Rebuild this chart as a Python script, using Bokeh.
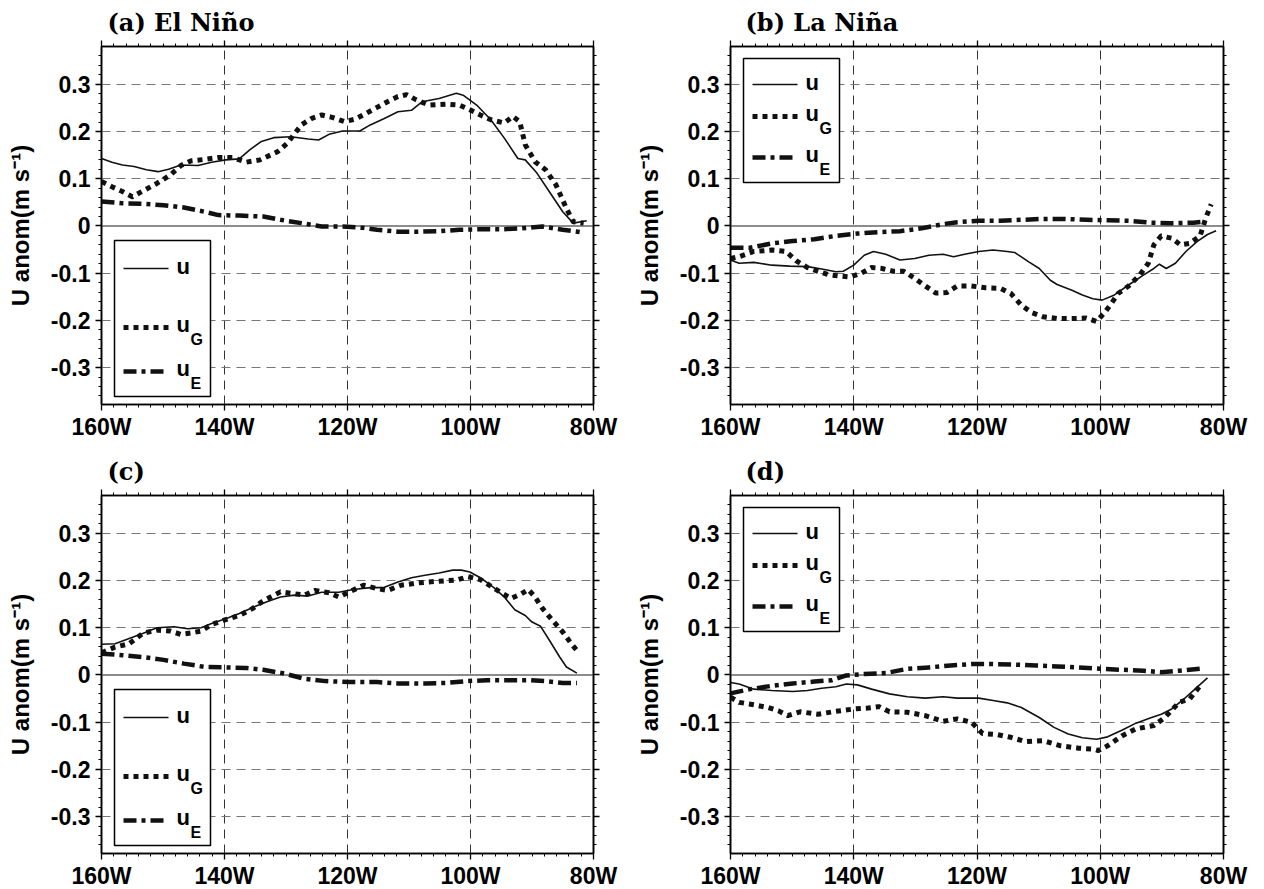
import numpy as np
from bokeh.plotting import figure
from bokeh.models import FixedTicker, LinearAxis, Span, Range1d
from bokeh.layouts import column, row
from bokeh.embed import file_html
from bokeh.resources import INLINE
from bokeh.core.properties import value

# ---------------- data ----------------
TITLES = ["(a) El Niño", "(b) La Niña", "(c)", "(d)"]
XTICKS = [-160, -140, -120, -100, -80]
XTICK_LABELS = ["160W", "140W", "120W", "100W", "80W"]
YTICKS = [-0.3, -0.2, -0.1, 0, 0.1, 0.2, 0.3]
YTICK_LABELS = ["-0.3", "-0.2", "-0.1", "0", "0.1", "0.2", "0.3"]
YLABEL = "U anom(m s\u207b\u00b9)"
SERIES_NAMES = ["u", "u", "u"]
SERIES_SUBS = ["", "G", "E"]

a_u_lon = [-160, -158.3, -156.6, -154.7, -152.7, -150.8, -149.1, -147.1, -144.3, -142.1, -139.8, -137.6, -135.9, -134, -132, -129.2, -126.4, -124.7, -123, -120.8, -118, -116.3, -114.1, -111.8, -109.6, -107.9, -105.1, -102.3, -101.2, -99, -96.7, -94.5, -92.3, -91.1, -89.2, -87.2, -85, -83.3, -81.1]
a_u_val = [0.143, 0.135, 0.129, 0.126, 0.119, 0.115, 0.12, 0.129, 0.128, 0.135, 0.14, 0.142, 0.161, 0.179, 0.187, 0.189, 0.184, 0.182, 0.194, 0.201, 0.201, 0.214, 0.227, 0.242, 0.245, 0.263, 0.27, 0.281, 0.277, 0.256, 0.225, 0.186, 0.143, 0.14, 0.112, 0.073, 0.03, 0.006, 0.011]
a_g_lon = [-160, -158.3, -156.6, -155, -153, -151, -148.8, -147.1, -145.4, -143.2, -141, -138.7, -136.5, -134.2, -131.4, -129.8, -127.5, -125.8, -124.2, -122.5, -120.5, -118.8, -116.9, -115.2, -113.5, -111.8, -110.4, -108.8, -106.8, -104, -101.8, -100.1, -98.4, -96.7, -94.5, -93.1, -92, -91.1, -89.5, -87.8, -86.1, -84.4, -83.3, -81.6]
a_g_val = [0.094, 0.083, 0.073, 0.062, 0.076, 0.09, 0.108, 0.128, 0.138, 0.141, 0.145, 0.145, 0.135, 0.14, 0.157, 0.175, 0.214, 0.228, 0.235, 0.23, 0.221, 0.226, 0.239, 0.251, 0.263, 0.274, 0.278, 0.267, 0.256, 0.258, 0.256, 0.246, 0.235, 0.225, 0.218, 0.232, 0.221, 0.172, 0.136, 0.119, 0.087, 0.037, 0.009, 0.006]
a_e_lon = [-160, -156.6, -153.3, -149.9, -146.6, -143.2, -141, -137.6, -133.7, -130.9, -127.5, -124.2, -120.8, -117.4, -115.2, -111.8, -108.5, -105.1, -101.8, -98.4, -95, -91.7, -88.3, -85, -82.2]
a_e_val = [0.052, 0.048, 0.047, 0.044, 0.039, 0.03, 0.023, 0.022, 0.02, 0.013, 0.006, -0.001, -0.001, -0.004, -0.008, -0.012, -0.012, -0.011, -0.008, -0.007, -0.007, -0.005, -0.001, -0.008, -0.013]

b_u_lon = [-160, -158.6, -156.2, -153.3, -150.4, -147.5, -145.2, -142.9, -141.7, -140, -138.3, -136.8, -134.8, -132.5, -130.1, -127.8, -125.5, -123.8, -122, -119.7, -117.4, -115.1, -113.9, -111.6, -109.9, -108.1, -107, -104.6, -102.9, -101.2, -99.7, -97.7, -95.4, -93, -91.3, -90.4, -89.3, -87.8, -86.1, -84.3, -82.6, -81.2]
b_u_val = [-0.072, -0.079, -0.077, -0.083, -0.085, -0.086, -0.091, -0.097, -0.096, -0.083, -0.062, -0.054, -0.06, -0.072, -0.069, -0.062, -0.06, -0.065, -0.06, -0.054, -0.051, -0.054, -0.056, -0.076, -0.09, -0.115, -0.124, -0.136, -0.146, -0.154, -0.157, -0.146, -0.125, -0.104, -0.09, -0.081, -0.09, -0.079, -0.054, -0.033, -0.018, -0.01]
b_g_lon = [-160, -158.6, -156.2, -153.3, -151, -149.3, -147.5, -145.8, -144.1, -142.3, -140.6, -138.8, -137.1, -135.4, -133.6, -131.9, -130.1, -128.4, -126.7, -124.9, -123.2, -120.9, -118.6, -116.2, -114.5, -112.8, -111, -109.3, -107, -104.6, -102.3, -100.6, -99.4, -98.3, -97.1, -95.4, -93.6, -92.2, -91.3, -90.1, -88.4, -87, -85.5, -83.8, -82.9, -82]
b_g_val = [-0.069, -0.065, -0.054, -0.051, -0.054, -0.074, -0.088, -0.096, -0.103, -0.106, -0.108, -0.1, -0.088, -0.09, -0.096, -0.096, -0.111, -0.127, -0.142, -0.141, -0.127, -0.127, -0.131, -0.132, -0.143, -0.168, -0.184, -0.192, -0.196, -0.196, -0.195, -0.202, -0.185, -0.166, -0.143, -0.127, -0.104, -0.079, -0.04, -0.021, -0.026, -0.04, -0.037, -0.021, 0.016, 0.046]
b_e_lon = [-160, -156.8, -153.3, -149.9, -146.4, -142.9, -139.4, -135.9, -132.5, -129, -125.5, -123.2, -119.7, -116.2, -112.8, -109.3, -105.8, -102.3, -98.8, -95.4, -91.9, -88.4, -84.9, -83.2]
b_e_val = [-0.046, -0.046, -0.037, -0.032, -0.028, -0.021, -0.016, -0.013, -0.011, -0.005, 0.004, 0.008, 0.011, 0.011, 0.013, 0.015, 0.015, 0.013, 0.012, 0.011, 0.007, 0.006, 0.007, 0.009]

c_u_lon = [-160, -157.8, -155.5, -153.3, -151, -148.2, -146, -143.8, -142.1, -139.8, -137.6, -135.4, -133.1, -130.9, -128.6, -126.4, -124.2, -121.4, -119.1, -116.3, -114.1, -111.8, -109.6, -107.4, -105.1, -102.9, -101.5, -100.1, -98.4, -96.2, -94.5, -92.8, -91.1, -90, -88.6, -87.2, -85.5, -84.4, -82.7]
c_u_val = [0.065, 0.066, 0.077, 0.088, 0.1, 0.102, 0.098, 0.1, 0.109, 0.119, 0.13, 0.143, 0.155, 0.165, 0.169, 0.167, 0.175, 0.175, 0.181, 0.185, 0.185, 0.197, 0.206, 0.211, 0.216, 0.222, 0.222, 0.218, 0.206, 0.185, 0.165, 0.138, 0.126, 0.112, 0.103, 0.074, 0.038, 0.017, 0.004]
c_g_lon = [-160, -157.8, -155.5, -153.3, -151, -148.8, -147.1, -145.4, -143.8, -142.1, -139.8, -137.6, -135.4, -133.7, -130.9, -128.6, -127, -125.3, -123, -121.4, -119.7, -117.4, -115.2, -113.5, -111.3, -108.5, -105.7, -102.3, -100.4, -98.4, -96.7, -95, -93.4, -91.7, -90.6, -89.5, -88.3, -86.7, -85, -83.6, -82.7]
c_g_val = [0.047, 0.059, 0.066, 0.088, 0.095, 0.093, 0.086, 0.089, 0.093, 0.107, 0.117, 0.126, 0.141, 0.157, 0.176, 0.172, 0.169, 0.179, 0.174, 0.165, 0.176, 0.19, 0.183, 0.179, 0.19, 0.195, 0.198, 0.201, 0.208, 0.202, 0.188, 0.174, 0.162, 0.172, 0.181, 0.165, 0.141, 0.116, 0.091, 0.066, 0.052]
c_e_lon = [-160, -156.6, -153.3, -149.9, -146.6, -143.2, -139.8, -136.5, -133.7, -130.3, -127, -123.6, -119.7, -115.2, -111.8, -107.4, -104, -100.6, -97.3, -93.9, -90.6, -87.8, -85, -82.7]
c_e_val = [0.045, 0.042, 0.038, 0.032, 0.024, 0.017, 0.016, 0.015, 0.011, 0.003, -0.008, -0.013, -0.015, -0.015, -0.018, -0.018, -0.017, -0.013, -0.011, -0.011, -0.011, -0.013, -0.017, -0.017]

d_u_lon = [-160, -158.6, -156.2, -153.3, -149.9, -147.5, -145.2, -142.9, -141.2, -139.4, -137.1, -134.2, -131.3, -128.4, -125.5, -123.2, -119.7, -117.4, -115.1, -112.8, -109.9, -107.5, -105.2, -102.9, -100.6, -98.8, -96.5, -94.2, -91.9, -90.1, -88.4, -86.7, -84.9, -82.6]
d_u_val = [-0.016, -0.019, -0.03, -0.033, -0.035, -0.033, -0.028, -0.025, -0.019, -0.021, -0.03, -0.04, -0.046, -0.049, -0.046, -0.049, -0.049, -0.054, -0.059, -0.069, -0.09, -0.111, -0.125, -0.133, -0.136, -0.131, -0.117, -0.102, -0.091, -0.083, -0.072, -0.054, -0.033, -0.006]
d_g_lon = [-160, -158.6, -156.2, -153.9, -152.2, -150.7, -148.7, -145.8, -142.9, -140, -137.7, -135.9, -134.2, -131.3, -128.4, -125.5, -123.2, -120.9, -119.1, -116.8, -114.5, -112.2, -109.3, -106.4, -103.5, -101.2, -100.3, -98.8, -96.5, -94.2, -91.3, -89.6, -87.2, -85.5, -83.8]
d_g_val = [-0.047, -0.058, -0.063, -0.069, -0.076, -0.086, -0.078, -0.083, -0.077, -0.072, -0.07, -0.067, -0.078, -0.079, -0.086, -0.098, -0.093, -0.1, -0.124, -0.126, -0.132, -0.141, -0.139, -0.15, -0.155, -0.157, -0.16, -0.15, -0.129, -0.114, -0.107, -0.091, -0.058, -0.051, -0.023]
d_e_lon = [-160, -156.8, -153.3, -149.9, -146.4, -143.5, -141.2, -138.3, -134.8, -131.3, -127.8, -124.3, -120.9, -117.4, -113.9, -110.4, -107, -103.5, -100, -96.5, -93, -90.1, -87.2, -83.8]
d_e_val = [-0.039, -0.03, -0.023, -0.018, -0.014, -0.011, -0.001, 0.002, 0.004, 0.013, 0.016, 0.02, 0.023, 0.023, 0.022, 0.02, 0.018, 0.016, 0.013, 0.011, 0.009, 0.006, 0.009, 0.013]

# ---------------- styles / layout ----------------
XR = (-160, -80)
YR = (-0.378, 0.38)
FH = 358
INK = "#111111"
STYLES = [dict(line_width=1.6, line_dash="solid"),
          dict(line_width=5, line_dash="5 5"),
          dict(line_width=4.5, line_dash="13 5 4 5")]
SANS = "Liberation Sans"
SERIF = "DejaVu Serif"

# legend geometry: pixel offsets from the frame's top-left corner
LEG_LOW = dict(top=194, bottom=350, keys=[222, 281, 325], txt=[220, 278, 322], sub=[0, 293, 337])
LEG_HIGH = dict(top=12, bottom=136, keys=[38, 70, 111], txt=[36, 67, 108], sub=[0, 82, 123])

x_minor = [v for v in range(-160, -79, 2) if v % 20 != 0]
y_minor = [round(v, 2) for v in np.arange(-0.36, 0.3601, 0.02) if abs(round(v * 50)) % 5 != 0]


def style_axis(ax, ticks, minor, labels):
    ax.ticker = FixedTicker(ticks=ticks, minor_ticks=minor)
    ax.axis_line_width = 1.6
    ax.axis_line_color = "black"
    ax.major_tick_out = 6
    ax.major_tick_in = 0
    ax.minor_tick_out = 3
    ax.minor_tick_in = 0
    ax.major_tick_line_width = 1.3
    ax.minor_tick_line_width = 1
    ax.major_tick_line_color = "black"
    ax.minor_tick_line_color = "black"
    if labels is None:
        ax.major_label_overrides = {t: "" for t in ticks}
        ax.major_label_text_font_size = "0px"
        ax.major_label_standoff = 0
    else:
        ax.major_label_overrides = dict(zip(ticks, labels))
        ax.major_label_text_font = SANS
        ax.major_label_text_font_style = "bold"
        ax.major_label_text_font_size = "23px"
        ax.major_label_text_color = "black"


def make_panel(title, series, leg, fw, left_col, top_row):
    p = figure(frame_width=fw, frame_height=FH,
               x_range=Range1d(*XR), y_range=Range1d(*YR),
               output_backend="svg", toolbar_location=None,
               min_border_left=101,
               min_border_right=36 if left_col else 30,
               min_border_top=46 if top_row else 42,
               min_border_bottom=47 if top_row else 38,
               background_fill_color="white", border_fill_color="white",
               outline_line_color="black", outline_line_width=1.5,
               title=title)
    p.title.text_font = SERIF
    p.title.text_font_style = "bold"
    p.title.text_font_size = "24px"
    p.title.align = "left"
    p.title.offset = 6 if left_col else 15
    p.title.standoff = 7
    p.title.text_color = "black"

    style_axis(p.xaxis[0], XTICKS, x_minor, XTICK_LABELS)
    p.xaxis[0].major_label_standoff = 3
    style_axis(p.yaxis[0], YTICKS, y_minor, YTICK_LABELS)
    p.yaxis[0].major_label_standoff = 5
    p.yaxis[0].axis_label = YLABEL
    p.yaxis[0].axis_label_text_font = SANS
    p.yaxis[0].axis_label_text_font_style = "bold"
    p.yaxis[0].axis_label_text_font_size = "24px"
    p.yaxis[0].axis_label_text_color = "black"
    p.yaxis[0].axis_label_standoff = 14

    top_ax = LinearAxis()
    style_axis(top_ax, XTICKS, x_minor, None)
    p.add_layout(top_ax, "above")
    right_ax = LinearAxis()
    style_axis(right_ax, YTICKS, y_minor, None)
    p.add_layout(right_ax, "right")

    p.xgrid.ticker = FixedTicker(ticks=XTICKS[1:-1])
    p.xgrid.grid_line_color = "#333333"
    p.xgrid.grid_line_dash = "9 6"
    p.xgrid.grid_line_width = 1
    p.ygrid.ticker = FixedTicker(ticks=[t for t in YTICKS if t != 0])
    p.ygrid.grid_line_color = "#777777"
    p.ygrid.grid_line_dash = "9 6"
    p.ygrid.grid_line_width = 1.2
    p.add_layout(Span(location=0, dimension="width", line_color="#666666",
                      line_width=1.5, level="underlay"))

    for (lon, val), st in zip(series, STYLES):
        p.line(lon, val, line_color=INK, line_cap="butt", line_join="round", **st)

    # legend box drawn from pixel offsets converted to data units
    sx = (XR[1] - XR[0]) / fw
    sy = (YR[1] - YR[0]) / FH
    X = lambda o: XR[0] + o * sx
    Y = lambda o: YR[1] - o * sy
    p.quad(left=X(13), right=X(109), top=Y(leg["top"]), bottom=Y(leg["bottom"]),
           fill_color="white", line_color="black", line_width=1.5)
    for i, st in enumerate(STYLES):
        ky = leg["keys"][i]
        p.line([X(22), X(67)], [Y(ky), Y(ky)], line_color=INK, line_cap="butt", **st)
        p.text(x=[X(75)], y=[Y(leg["txt"][i])], text=[SERIES_NAMES[i]],
               text_font=value(SANS), text_font_style="bold",
               text_font_size="22px", text_baseline="middle", text_align="left",
               text_color="black")
        if SERIES_SUBS[i]:
            p.text(x=[X(89)], y=[Y(leg["sub"][i])], text=[SERIES_SUBS[i]],
                   text_font=value(SANS), text_font_style="bold",
                   text_font_size="16px", text_baseline="middle", text_align="left",
                   text_color="black")
    return p


pa = make_panel(TITLES[0], [(a_u_lon, a_u_val), (a_g_lon, a_g_val), (a_e_lon, a_e_val)], LEG_LOW, 492, True, True)
pb = make_panel(TITLES[1], [(b_u_lon, b_u_val), (b_g_lon, b_g_val), (b_e_lon, b_e_val)], LEG_HIGH, 493, False, True)
pc = make_panel(TITLES[2], [(c_u_lon, c_u_val), (c_g_lon, c_g_val), (c_e_lon, c_e_val)], LEG_LOW, 492, True, False)
pd = make_panel(TITLES[3], [(d_u_lon, d_u_val), (d_g_lon, d_g_val), (d_e_lon, d_e_val)], LEG_HIGH, 493, False, False)

layout = column(row(pa, pb), row(pc, pd))
open("out.html", "w").write(file_html(layout, INLINE))
